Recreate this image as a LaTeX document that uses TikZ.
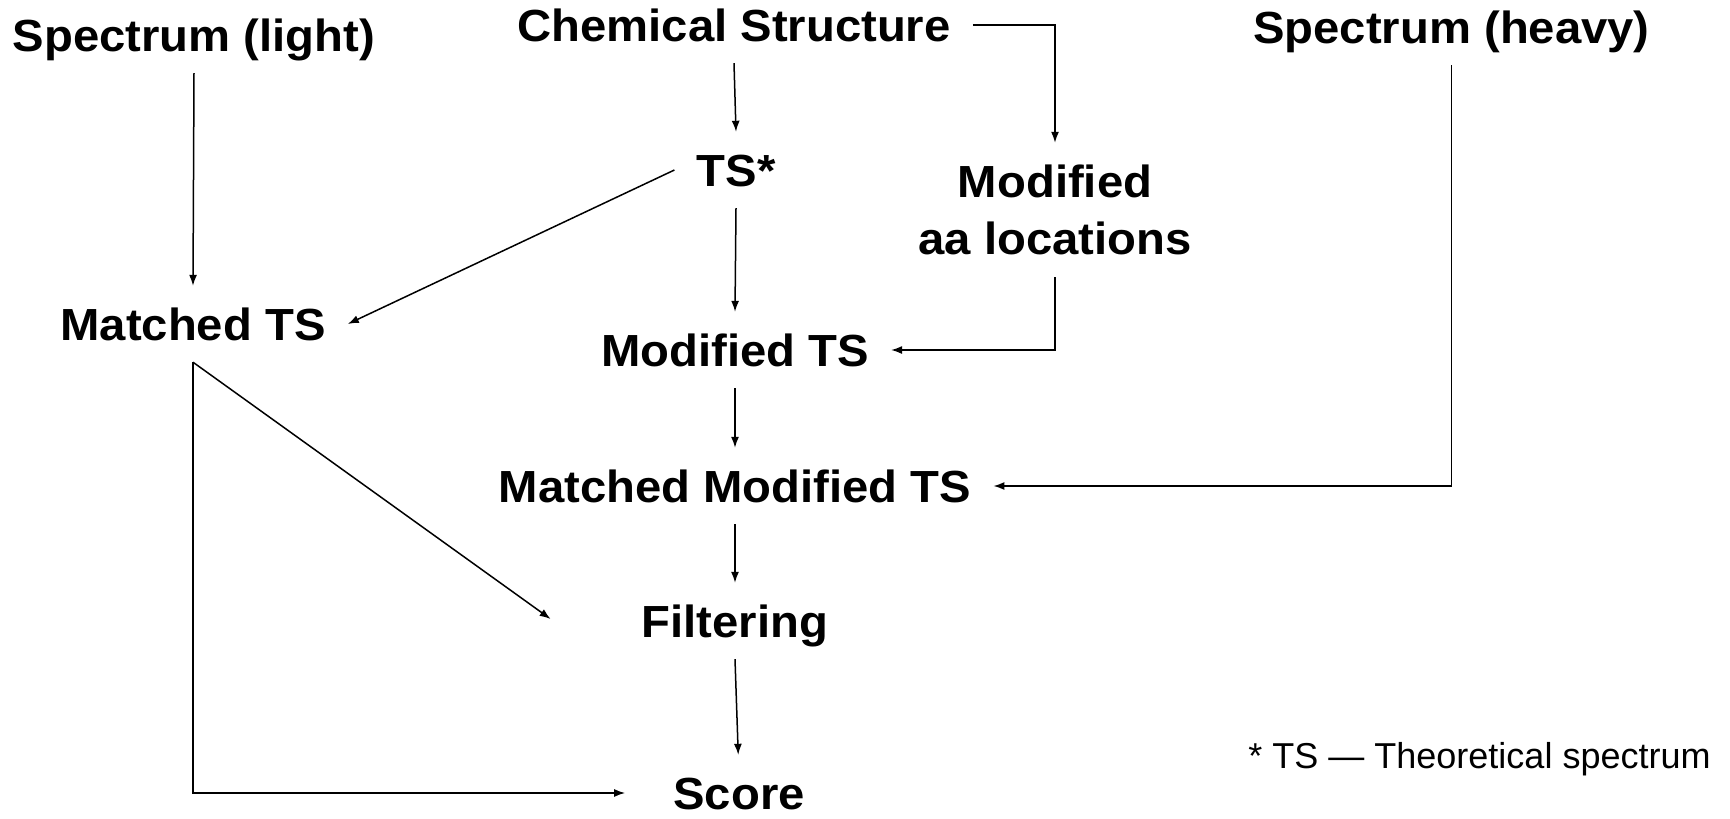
\documentclass[tikz,border=0pt]{standalone}
\usepackage{fontspec}
\setmainfont{Liberation Sans}
\newfontfamily\lblfont{Liberation Sans}[FakeStretch=1.05]
\usetikzlibrary{arrows.meta,calc}
\tikzset{
  lbl/.style={font=\lblfont\bfseries\fontsize{45}{57}\selectfont, inner xsep=22pt, inner ysep=22pt,
              text height=32pt, text depth=0pt, anchor=base},
  multilbl/.style={font=\lblfont\bfseries\fontsize{45}{57}\selectfont, inner sep=22pt, align=center, anchor=center},
  note/.style={font=\fontsize{36}{43}\selectfont, inner sep=0pt, anchor=base},
  conn/.style={line width=1.5pt, -{Latex[length=11pt,width=8pt]}},
  plain/.style={line width=1.5pt}
}
\begin{document}
\begin{tikzpicture}[x=1pt,y=-1pt]
\useasboundingbox (0,0) rectangle (1730,819);
\node[lbl] (light) at (194,51) {Spectrum (light)};
\node[lbl] (chem) at (734,41) {Chemical Structure};
\node[lbl] (heavy) at (1451.5,43) {Spectrum (heavy)};
\node[lbl] (ts) at (736,186) {TS*};
\node[multilbl] (modaa) at (1055,210) {Modified\\aa locations};
\node[lbl] (matched) at (193,340) {Matched TS};
\node[lbl] (modts) at (735,366) {Modified TS};
\node[lbl] (mmts) at (735,502) {Matched Modified TS};
\node[lbl] (filt) at (735,637) {Filtering};
\node[lbl, inner ysep=0pt, inner xsep=0pt] (score) at (739,809) {Score};
\node[note] (fn) at (1479.5,768) {* TS — Theoretical spectrum};
\coordinate (filtin) at ($(filt.west)+(-69,-2)$);

\draw[conn] (chem.south) -- (ts.north);
\draw[conn] (chem.east) -| (modaa.north);
\draw[conn] (light.south) -- (matched.north);
\draw[conn] (ts.west) -- (matched.east);
\draw[conn] (ts.south) -- (modts.north);
\draw[conn] (modaa.south) |- (modts.east);
\draw[conn] (modts.south) -- (mmts.north);
\draw[conn] (heavy.south) |- (mmts.east);
\draw[conn] (mmts.south) -- (filt.north);
\draw[conn, shorten >=22pt] (filt.south) -- (score.north);
\draw[conn] (matched.south) -- (filtin);
\draw[conn, shorten >=48pt] (matched.south) |- (score.west);
\end{tikzpicture}
\end{document}
